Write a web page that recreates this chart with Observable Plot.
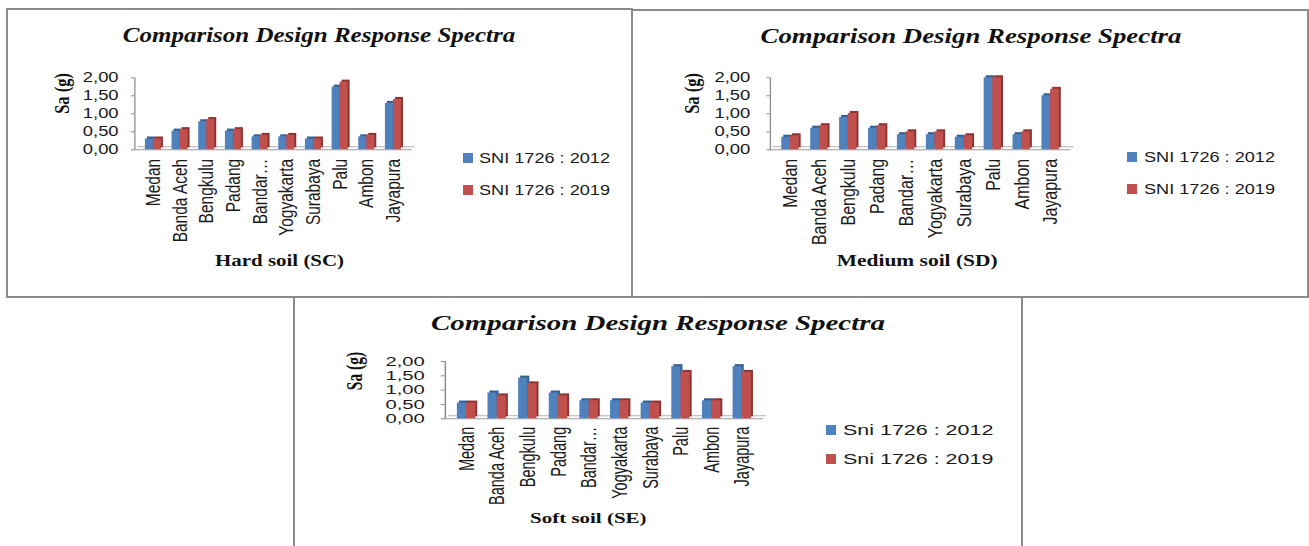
<!DOCTYPE html>
<html><head><meta charset="utf-8">
<script src="https://cdn.jsdelivr.net/npm/d3@7"></script>
<script src="https://cdn.jsdelivr.net/npm/@observablehq/plot@0.6"></script>
<style>
body{margin:0;width:1309px;height:546px;overflow:hidden;background:#fff;position:relative;font-family:"Liberation Sans",Arial,sans-serif;color:#1a1a1a}
.box{position:absolute;border:2px solid #8c8c8c;box-sizing:border-box;background:#fff}
.title{position:absolute;white-space:nowrap;font-family:"Liberation Serif","Times New Roman",serif;font-weight:bold;font-style:italic;transform-origin:center;color:#111}
.leg{position:absolute;white-space:nowrap;font-size:14.5px;line-height:16px;transform-origin:left center}
.sw{position:absolute;width:10px;height:10px}
</style>
</head><body>
<div class="box" style="left:6px;top:8px;width:627px;height:290px"></div>
<div class="box" style="left:631px;top:9px;width:678px;height:289px"></div>
<div class="box" style="left:293px;top:296px;width:730px;height:270px"></div>
<script>
// ---- data ----
const cities = ["Medan","Banda Aceh","Bengkulu","Padang","Bandar\u2026","Yogyakarta","Surabaya","Palu","Ambon","Jayapura"];
const hard2012   = [0.30,0.52,0.78,0.52,0.36,0.36,0.30,1.74,0.36,1.29];
const hard2019   = [0.30,0.56,0.84,0.56,0.40,0.40,0.30,1.88,0.40,1.40];
const medium2012 = [0.35,0.60,0.90,0.60,0.42,0.42,0.35,2.00,0.42,1.50];
const medium2019 = [0.39,0.67,1.01,0.67,0.50,0.50,0.39,2.00,0.50,1.68];
const soft2012   = [0.55,0.90,1.42,0.90,0.63,0.63,0.55,1.82,0.63,1.82];
const soft2019   = [0.55,0.80,1.22,0.80,0.63,0.63,0.55,1.62,0.63,1.62];
const yTicks = [0, 0.5, 1, 1.5, 2];
const seriesUpper = ["SNI 1726 : 2012", "SNI 1726 : 2019"];
const seriesLower = ["Sni 1726 : 2012", "Sni 1726 : 2019"];
const chartTitle = "Comparison Design Response Spectra";
const colors = ["#4F81BD", "#C0504D"];
const sideColors = ["#385F8C", "#8E3532"];

const fmt = d => d.toFixed(2).replace(".", ",");

function addTitle(cx, top, size, scale) {
  const d = document.createElement("div");
  d.className = "title";
  d.textContent = chartTitle;
  d.style.left = cx + "px";
  d.style.top = top + "px";
  d.style.fontSize = size + "px";
  d.style.lineHeight = size + "px";
  d.style.transform = `translateX(-50%) scaleX(${scale})`;
  document.body.appendChild(d);
}

function addLegend(names, swX, textX, rows, scale) {
  names.forEach((n, i) => {
    const sw = document.createElement("div");
    sw.className = "sw";
    sw.style.left = swX + "px";
    sw.style.top = (rows[i] - 5) + "px";
    sw.style.background = colors[i];
    document.body.appendChild(sw);
    const t = document.createElement("div");
    t.className = "leg";
    t.textContent = n;
    t.style.left = textX + "px";
    t.style.top = (rows[i] - 8) + "px";
    t.style.transform = `scaleX(${scale})`;
    document.body.appendChild(t);
  });
}

function makeChart(c) {
  const W = c.pageW / c.s;
  const n = cities.length, p = 0.4;
  const step = (W - c.ml - c.mr) / (n + p);
  const half = step * (1 - p) / 2;
  const rows = cities.map((city, i) => ({city, a: c.a[i], b: c.b[i]}));
  const off = {dx: 2 / c.s, dy: -2};
  const chart = Plot.plot({
    width: W, height: c.H,
    marginTop: c.mt, marginBottom: c.mb, marginLeft: c.ml, marginRight: c.mr,
    x: {domain: cities, padding: p, round: false},
    y: {domain: [0, 2]},
    marks: [
      Plot.axisY({ticks: yTicks, tickFormat: fmt, tickSize: 2.6, tickPadding: c.tickPad, label: null,
        fontSize: c.tickFont, fontFamily: "Liberation Sans", stroke: "#8c8c8c", fill: "#1a1a1a"}),
      Plot.axisX({tickRotate: -90, tickSize: 0, tickPadding: c.catPad, label: null,
        fontSize: c.catFont, fontFamily: "Liberation Sans", fill: "#1a1a1a"}),
      Plot.frame({anchor: "left", stroke: "#8c8c8c"}),
      Plot.ruleY([0], {stroke: "#b0b0b0", dx: 3 / c.s, dy: -3}),
      Plot.ruleY([0], {stroke: "#9a9a9a"}),
      Plot.barY(rows, {x: "city", y: "a", insetRight: half, fill: sideColors[0], ...off}),
      Plot.barY(rows, {x: "city", y: "a", insetRight: half, fill: colors[0]}),
      Plot.barY(rows, {x: "city", y: "b", insetLeft: half, fill: sideColors[1], ...off}),
      Plot.barY(rows, {x: "city", y: "b", insetLeft: half, fill: colors[1]}),
      Plot.text(["Sa (g)"], {text: d => d, frameAnchor: "left", rotate: -90, dx: c.ylabDx,
        fontSize: c.ylabFont, fontFamily: "Liberation Serif", fontWeight: "bold", fill: "#111"}),
      Plot.text([c.xlab], {text: d => d, frameAnchor: "bottom", dx: c.xlabDx, dy: c.xlabDy,
        fontSize: c.xlabFont, fontFamily: "Liberation Serif", fontWeight: "bold", fill: "#111"})
    ]
  });
  chart.setAttribute("preserveAspectRatio", "none");
  chart.style.position = "absolute";
  chart.style.left = c.left + "px";
  chart.style.top = c.top + "px";
  chart.style.width = c.pageW + "px";
  chart.style.height = c.H + "px";
  chart.style.maxWidth = "none";
  chart.style.background = "transparent";
  chart.style.color = "#1a1a1a";
  document.body.appendChild(chart);
}

// Panel 1 — Hard soil
makeChart({s: 1.27, left: 8, top: 60, pageW: 420, H: 220, mt: 17.3, mb: 130.7, ml: 99.4, mr: 12.9,
  a: hard2012, b: hard2019, tickFont: 14.5, tickPad: 10.2, catFont: 15.5, catPad: 9,
  ylabDx: -57.3, ylabFont: 16.5, xlab: "Hard soil (SC)", xlabDx: 4.7, xlabDy: 116, xlabFont: 16.5});
addTitle(319, 25.4, 20, 1.25);
addLegend(seriesUpper, 463, 479, [157.7, 190], 1.25);

// Panel 2 — Medium soil
makeChart({s: 1.3, left: 640, top: 60, pageW: 450, H: 220, mt: 17.3, mb: 130.7, ml: 99.8, mr: 15.1,
  a: medium2012, b: medium2019, tickFont: 14.2, tickPad: 12.8, catFont: 16, catPad: 9,
  ylabDx: -60.2, ylabFont: 16.5, xlab: "Medium soil (SD)", xlabDx: -2.7, xlabDy: 116, xlabFont: 16.5});
addTitle(970.5, 26, 21, 1.277);
addLegend(seriesUpper, 1127, 1144, [157, 189], 1.25);

// Panel 3 — Soft soil
makeChart({s: 1.5, left: 300, top: 340, pageW: 480, H: 200, mt: 21, mb: 121.7, ml: 96.4, mr: 11.2,
  a: soft2012, b: soft2019, tickFont: 13.5, tickPad: 11.1, catFont: 14.5, catPad: 8,
  ylabDx: -60.4, ylabFont: 15.5, xlab: "Soft soil (SE)", xlabDx: -10.9, xlabDy: 104, xlabFont: 14});
addTitle(657.5, 313, 21, 1.377);
addLegend(seriesLower, 826, 843, [430, 459], 1.48);
</script>
</body></html>
